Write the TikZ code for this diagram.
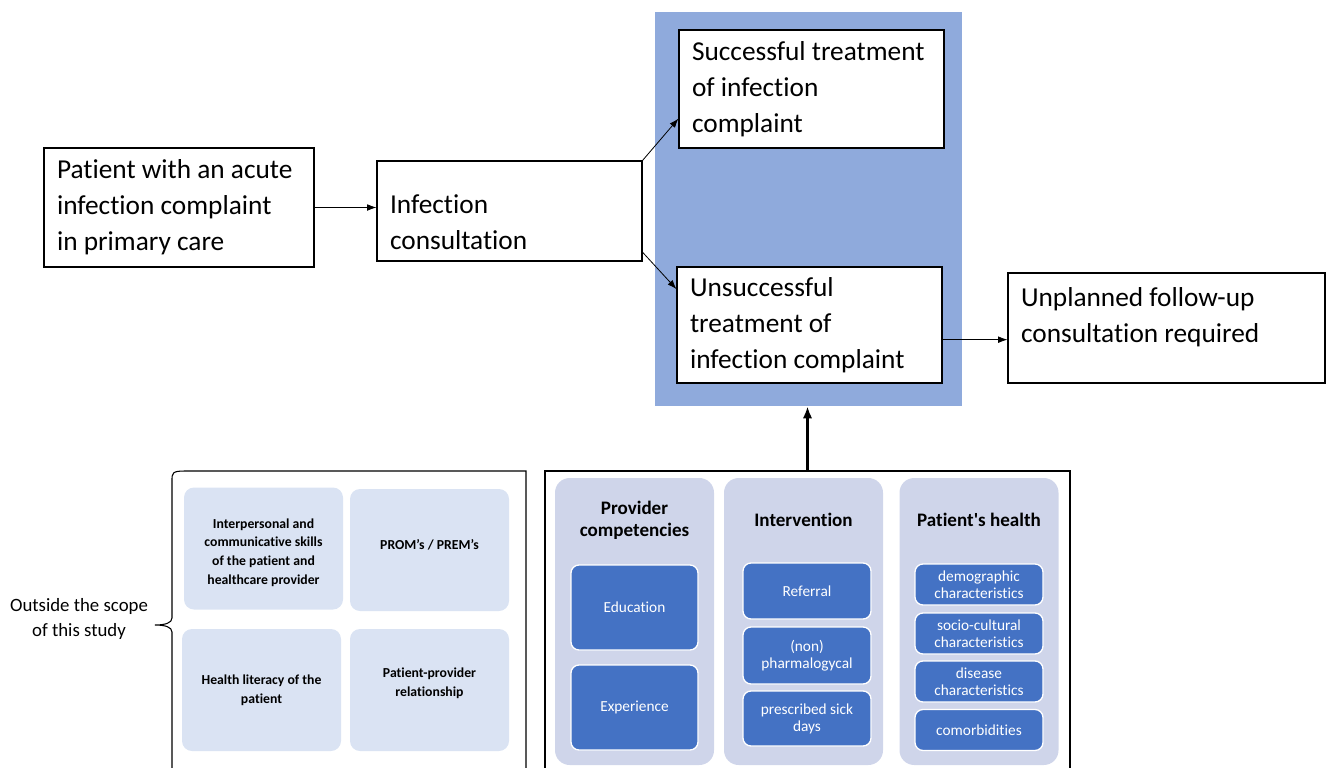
\documentclass[tikz,border=0pt]{standalone}
\usepackage{fontspec}
\setmainfont{Carlito}[Ligatures={TeX,NoCommon}]
\usetikzlibrary{arrows.meta,positioning,calc}
\definecolor{outcomeblue}{HTML}{8FAADC}
\definecolor{colgrey}{HTML}{CFD5EA}
\definecolor{itemblue}{HTML}{4472C4}
\definecolor{scopegrey}{HTML}{DAE3F3}

\begin{document}
\begin{tikzpicture}[
    x=0.75pt, y=-0.75pt,
    flowbox/.style={draw, line width=0.8pt, fill=white, align=flush left, inner xsep=9.75pt, font=\fontsize{20.5}{27}\selectfont},
    colbox/.style={fill=colgrey, rounded corners=11pt, minimum width=119.25pt, minimum height=215.25pt},
    coltitle/.style={align=center, font=\bfseries\fontsize{14.3}{16.5}\selectfont},
    itembox/.style={fill=itemblue, draw=white, line width=1pt, rounded corners=6pt, text=white, align=center, minimum width=96pt, font=\fontsize{11.5}{12.75}\selectfont},
    scopebox/.style={fill=scopegrey, rounded corners=7.5pt, minimum width=119.25pt, minimum height=91.5pt, align=center, font=\bfseries\fontsize{10.3}{14}\selectfont},
    flow/.style={line width=0.6pt, -{Latex[length=7pt,width=5pt]}}]
    \useasboundingbox (0,0) rectangle (1327,767);

    % outcome area
    \node (outcome) [fill=outcomeblue, minimum width=230.25pt, minimum height=295.5pt] at (808.5,209) {};

    \node (patient) [flowbox, text width=183pt, minimum height=89.25pt] at (179,207.5) {Patient with an acute\\infection complaint\\in primary care};
    \node (consult) [flowbox, text width=179.25pt, minimum height=75pt] at (509.5,211) {\rule{0pt}{31pt}Infection\\consultation};
    \node (success) [flowbox, text width=179.25pt, minimum height=88.5pt] at (811.5,89) {Successful treatment\\of infection\\complaint};
    \node (fail)    [flowbox, text width=179.25pt, minimum height=87pt] at (809.5,325) {Unsuccessful\\treatment of\\infection complaint};
    \node (followup) [flowbox, text width=218.25pt, minimum height=82.5pt] at (1166.5,328) {Unplanned follow-up\\consultation required\rule[-19pt]{0pt}{1pt}};

    \draw[flow] (patient.east) -- (patient.east -| consult.west);
    \draw[flow] (consult.north east) -- ([yshift=22.5pt]success.south west);
    \draw[flow] ([yshift=7pt]consult.south east) -- ([yshift=-17pt]fail.north west);
    \draw[flow] ([yshift=-11pt]fail.east) -- ([yshift=-11pt]fail.east -| followup.west);

    % factors in scope
    \node (factors) [draw, line width=1pt, minimum width=393.75pt, minimum height=231.75pt] at (807.5,625.5) {};
    \draw[line width=2pt, -{Latex[length=9pt,width=7pt]}] (factors.north) -- (factors.north |- outcome.south);

    \node (provcol)   [colbox] at (634.5,621.5) {};
    \node (intercol)  [colbox] at (803.5,621.5) {};
    \node (healthcol) [colbox] at (979,621.5) {};

    \node (provtitle)   [coltitle] at (634.5,520) {Provider\\competencies};
    \node (intertitle)  [coltitle] at (803.5,520) {Intervention};
    \node (healthtitle) [coltitle] at (979,520) {Patient\textquotesingle s health};

    \node (educ)  [itembox, minimum width=95.25pt, minimum height=63.75pt] at (634.5,607.5) {Education};
    \node (exper) [itembox, minimum width=95.25pt, minimum height=63.75pt] at (634.5,707.5) {Experience};

    \node (referral) [itembox, minimum height=42pt] at (807,591) {Referral};
    \node (pharma)   [itembox, minimum height=42.75pt] at (807,655.5) {(non)\\pharmalogycal};
    \node (sickdays) [itembox, minimum height=41.25pt] at (807,718.5) {prescribed sick\\days};

    \node (demo)   [itembox, minimum height=30.75pt] at (979,584.5) {demographic\\characteristics};
    \node (socio)  [itembox, minimum height=30.75pt] at (979,633.5) {socio-cultural\\characteristics};
    \node (dis)    [itembox, minimum height=30.75pt] at (979,681.5) {disease\\characteristics};
    \node (comorb) [itembox, minimum height=30.75pt] at (979,730) {comorbidities};

    % outside the scope
    \draw[line width=0.8pt] (526,780) -- (526,471) -- (185,471) .. controls (172,471) and (172,473) .. (172,481) -- (172,618) .. controls (172,623) and (165,625) .. (155,625) .. controls (165,625) and (172,627) .. (172,632) -- (172,780);

    \node (skills)   [scopebox] at (263.5,548.5) {\rule{0pt}{13pt}Interpersonal and\\communicative skills\\of the patient and\\healthcare provider};
    \node (prom)     [scopebox] at (429.5,550) {PROM’s / PREM’s\rule[-9pt]{0pt}{1pt}};
    \node (literacy) [scopebox] at (261.5,690) {Health literacy of the\\patient};
    \node (relation) [scopebox] at (429.5,690) {Patient-provider\\relationship\rule[-12pt]{0pt}{1pt}};

    \node (outside) [align=center, font=\fontsize{14.1}{18.75}\selectfont] at (79,618.5) {Outside the scope\\of this study};
\end{tikzpicture}
\end{document}
